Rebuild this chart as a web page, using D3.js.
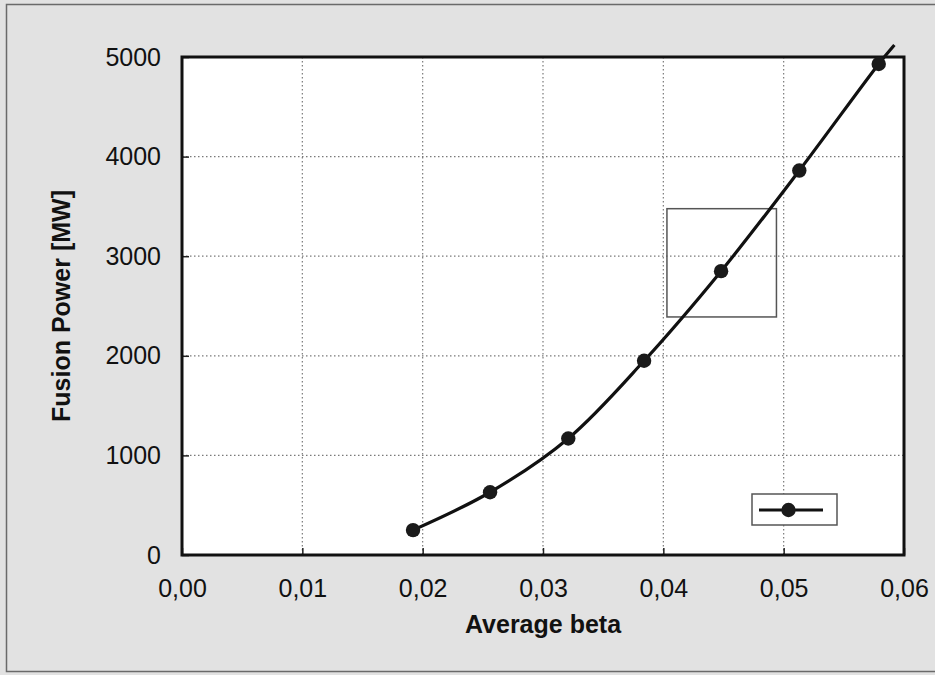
<!DOCTYPE html>
<html>
<head>
<meta charset="utf-8">
<script src="https://cdn.jsdelivr.net/npm/d3@7"></script>
<style>
  html, body { margin: 0; padding: 0; background: #e2e2e2; }
  svg { display: block; }
  text { font-family: "Liberation Sans", Arial, Helvetica, sans-serif; fill: #111; }
</style>
</head>
<body>
<svg id="chart" width="935" height="675"></svg>
<script>
// Fusion power versus average beta
const betaValues  = [0.0192, 0.0256, 0.0321, 0.0384, 0.0448, 0.0513, 0.0579];
const powerValues = [250, 630, 1170, 1950, 2850, 3860, 4930];

// the fitted trace runs a little past the last computed point
const traceEndBeta = 0.0592;
const traceEndPower = 5120;

const xTickValues = [0, 0.01, 0.02, 0.03, 0.04, 0.05, 0.06];
const xTickLabels = ["0,00", "0,01", "0,02", "0,03", "0,04", "0,05", "0,06"];
const yTickValues = [0, 1000, 2000, 3000, 4000, 5000];
const yTickLabels = ["0", "1000", "2000", "3000", "4000", "5000"];

// highlighted region around one operating point: [beta min, beta max, power min, power max]
const highlightBox = [0.0403, 0.0494, 2390, 3477];

const xTitle = "Average beta";
const yTitle = "Fusion Power [MW]";

const svg = d3.select("#chart");
const W = 935, H = 675;
const plot = { left: 182, right: 904, top: 57, bottom: 555 };

const x = d3.scaleLinear().domain([0, 0.06]).range([plot.left, plot.right]);
const y = d3.scaleLinear().domain([0, 5000]).range([plot.bottom, plot.top]);

// page background and outer frame
svg.append("rect").attr("x", 0).attr("y", 0).attr("width", W).attr("height", H).attr("fill", "#e2e2e2");
svg.append("rect").attr("x", 6.5).attr("y", 4.5).attr("width", W).attr("height", 667)
  .attr("fill", "none").attr("stroke", "#6a6a6a").attr("stroke-width", 1.5);

// plot area
svg.append("rect")
  .attr("x", plot.left).attr("y", plot.top)
  .attr("width", plot.right - plot.left).attr("height", plot.bottom - plot.top)
  .attr("fill", "#fff");

// dotted grid
const grid = svg.append("g").attr("stroke", "#7a7a7a").attr("stroke-width", 1.2).attr("stroke-dasharray", "1.5,2.5");
grid.selectAll("line.gx").data(xTickValues.slice(1, -1)).join("line")
  .attr("x1", d => x(d)).attr("x2", d => x(d))
  .attr("y1", plot.top).attr("y2", plot.bottom);
grid.selectAll("line.gy").data(yTickValues.slice(1, -1)).join("line")
  .attr("x1", plot.left).attr("x2", plot.right)
  .attr("y1", d => y(d)).attr("y2", d => y(d));

// axes with inward ticks
const xAxis = d3.axisBottom(x).tickValues(xTickValues)
  .tickFormat((d, i) => xTickLabels[i]).tickSizeInner(-7).tickSizeOuter(0).tickPadding(26);
const yAxis = d3.axisLeft(y).tickValues(yTickValues)
  .tickFormat((d, i) => yTickLabels[i]).tickSizeInner(-7).tickSizeOuter(0).tickPadding(21);

const gx = svg.append("g").attr("transform", `translate(0,${plot.bottom})`).call(xAxis);
const gy = svg.append("g").attr("transform", `translate(${plot.left},0)`).call(yAxis);
[gx, gy].forEach(g => {
  g.select(".domain").remove();
  g.selectAll(".tick line").attr("stroke", "#222").attr("stroke-width", 1.5);
  g.selectAll(".tick text").attr("font-size", 25).attr("fill", "#111")
    .style("font-family", "'Liberation Sans', Arial, sans-serif");
});
gx.selectAll(".tick text").attr("dy", "0.64em");
gy.selectAll(".tick text").attr("dy", "0.32em");

// plot border
svg.append("rect")
  .attr("x", plot.left).attr("y", plot.top)
  .attr("width", plot.right - plot.left).attr("height", plot.bottom - plot.top)
  .attr("fill", "none").attr("stroke", "#111").attr("stroke-width", 3);

// highlight box
svg.append("rect")
  .attr("x", x(highlightBox[0])).attr("y", y(highlightBox[3]))
  .attr("width", x(highlightBox[1]) - x(highlightBox[0]))
  .attr("height", y(highlightBox[2]) - y(highlightBox[3]))
  .attr("fill", "none").attr("stroke", "#555").attr("stroke-width", 1.5);

// data trace
const tracePts = betaValues.map((b, i) => [b, powerValues[i]]).concat([[traceEndBeta, traceEndPower]]);
const line = d3.line().x(d => x(d[0])).y(d => y(d[1])).curve(d3.curveCatmullRom.alpha(0.5));
svg.append("path").datum(tracePts).attr("d", line)
  .attr("fill", "none").attr("stroke", "#111").attr("stroke-width", 3.2)
  .attr("stroke-linejoin", "round").attr("stroke-linecap", "butt");

svg.selectAll("circle.pt").data(betaValues).join("circle")
  .attr("class", "pt")
  .attr("cx", d => x(d)).attr("cy", (d, i) => y(powerValues[i]))
  .attr("r", 7.2).attr("fill", "#1a1a1a");

// legend (symbol only)
const leg = svg.append("g").attr("transform", "translate(752,494)");
leg.append("rect").attr("x", 0).attr("y", 0).attr("width", 85).attr("height", 31)
  .attr("fill", "#fff").attr("stroke", "#555").attr("stroke-width", 1.5);
leg.append("line").attr("x1", 7).attr("x2", 71).attr("y1", 16).attr("y2", 16)
  .attr("stroke", "#111").attr("stroke-width", 3.2);
leg.append("circle").attr("cx", 36.5).attr("cy", 16).attr("r", 7.2).attr("fill", "#1a1a1a");

// axis titles
svg.append("text")
  .attr("x", (plot.left + plot.right) / 2).attr("y", 633)
  .attr("text-anchor", "middle").attr("font-size", 25).attr("font-weight", "bold")
  .text(xTitle);
svg.append("text")
  .attr("transform", `translate(70,${(plot.top + plot.bottom) / 2}) rotate(-90)`)
  .attr("text-anchor", "middle").attr("font-size", 25).attr("font-weight", "bold")
  .text(yTitle);
</script>
</body>
</html>
